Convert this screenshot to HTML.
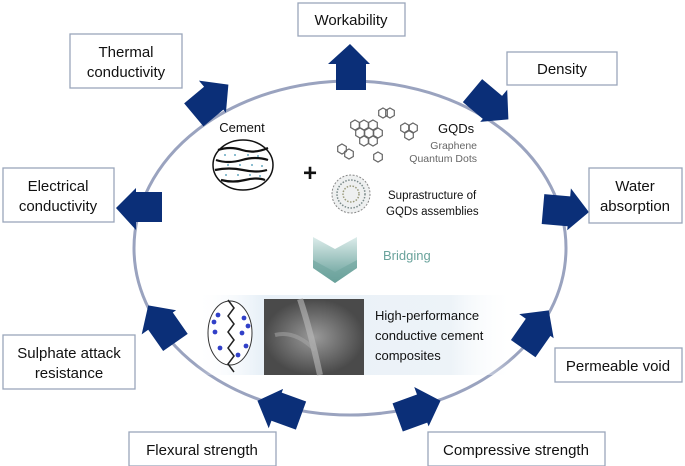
<!DOCTYPE html>
<html><head><meta charset="utf-8"><style>
html,body{margin:0;padding:0;background:#fff;}
svg{display:block;font-family:"Liberation Sans",sans-serif;}
</style></head><body>
<svg width="685" height="466" viewBox="0 0 685 466" xmlns="http://www.w3.org/2000/svg">
<defs>
<linearGradient id="band" x1="0" x2="1"><stop offset="0" stop-color="#fff" stop-opacity="0"/><stop offset="0.2" stop-color="#e9f1f8"/><stop offset="0.8" stop-color="#edf3f8"/><stop offset="1" stop-color="#fff" stop-opacity="0"/></linearGradient>
<linearGradient id="chev" x1="0" y1="0" x2="0" y2="1"><stop offset="0" stop-color="#dcecea"/><stop offset="1" stop-color="#5e9a94"/></linearGradient>
<radialGradient id="sem"><stop offset="0" stop-color="#9a9a9a"/><stop offset="1" stop-color="#4a4a4a"/></radialGradient>
<g id="ar"><polygon points="-22,-14 4,-14 4,-22 24,0 4,20 4,16 -22,16" fill="#0b2f78"/></g>
<g id="hex" fill="none" stroke="#666" stroke-width="1.2"><polygon points="0,-5 4.3,-2.5 4.3,2.5 0,5 -4.3,2.5 -4.3,-2.5"/></g>
</defs>
<ellipse cx="350" cy="248" rx="216" ry="167" fill="none" stroke="#9aa3bf" stroke-width="3"/>
<use href="#ar" transform="translate(350,68) rotate(-90)"/>
<use href="#ar" transform="translate(490,104) rotate(40)"/>
<use href="#ar" transform="translate(565,210) rotate(5)"/>
<use href="#ar" transform="translate(535,330) rotate(-55)"/>
<use href="#ar" transform="translate(418,409) rotate(-20)"/>
<use href="#ar" transform="translate(280,409) rotate(200)"/>
<use href="#ar" transform="translate(162,325) rotate(235)"/>
<use href="#ar" transform="translate(140,208) rotate(180)"/>
<use href="#ar" transform="translate(210,100) rotate(-40)"/>
<g fill="#fff" stroke="#9aa6bb" stroke-width="1.3">
<rect x="298" y="3" width="107" height="33"/>
<rect x="70" y="34" width="112" height="54"/>
<rect x="507" y="52" width="110" height="33"/>
<rect x="3" y="168" width="111" height="54"/>
<rect x="589" y="168" width="93" height="55"/>
<rect x="3" y="335" width="132" height="54"/>
<rect x="555" y="348" width="127" height="34"/>
<rect x="129" y="432" width="147" height="34"/>
<rect x="428" y="432" width="177" height="34"/>
</g>
<g font-size="15" fill="#111" text-anchor="middle">
<text x="351" y="25">Workability</text>
<text x="126" y="57">Thermal</text><text x="126" y="77">conductivity</text>
<text x="562" y="74">Density</text>
<text x="58" y="191">Electrical</text><text x="58" y="211">conductivity</text>
<text x="635" y="191">Water</text><text x="635" y="211">absorption</text>
<text x="69" y="358">Sulphate attack</text><text x="69" y="378">resistance</text>
<text x="618" y="371">Permeable void</text>
<text x="202" y="455">Flexural strength</text>
<text x="516" y="455">Compressive strength</text>
</g>
<text x="242" y="132" font-size="13" text-anchor="middle" fill="#111">Cement</text>
<ellipse cx="243" cy="165" rx="30" ry="25" fill="#fff" stroke="#111" stroke-width="1.5"/>
<g stroke="#111" stroke-width="2.2" fill="none">
<path d="M218 150 q12 -4 24 0 t26 -2"/><path d="M216 160 q12 4 26 0 t26 0"/><path d="M215 170 q14 -3 28 0 t24 0"/><path d="M221 180 q12 3 24 0 t20 0"/>
</g>
<g fill="#3a8fb0"><circle cx="225" cy="155" r="0.9"/><circle cx="235" cy="155" r="0.9"/><circle cx="248" cy="155" r="0.9"/><circle cx="258" cy="156" r="0.9"/><circle cx="228" cy="165" r="0.9"/><circle cx="240" cy="165" r="0.9"/><circle cx="252" cy="165" r="0.9"/><circle cx="262" cy="166" r="0.9"/><circle cx="226" cy="175" r="0.9"/><circle cx="238" cy="175" r="0.9"/><circle cx="250" cy="175" r="0.9"/><circle cx="260" cy="176" r="0.9"/></g>
<text x="310" y="181" font-size="24" font-weight="bold" text-anchor="middle" fill="#111">+</text>
<g>
<use href="#hex" x="355" y="125"/><use href="#hex" x="364" y="125"/><use href="#hex" x="373" y="125"/><use href="#hex" x="360" y="133"/><use href="#hex" x="369" y="133"/><use href="#hex" x="378" y="133"/><use href="#hex" x="364" y="141"/><use href="#hex" x="373" y="141"/>
<use href="#hex" x="405" y="128"/><use href="#hex" x="413" y="128"/><use href="#hex" x="409" y="135"/>
<use href="#hex" x="383" y="113"/><use href="#hex" x="390" y="113"/>
<use href="#hex" x="342" y="149"/><use href="#hex" x="349" y="154"/>
<use href="#hex" x="378" y="157"/>
</g>
<text x="438" y="133" font-size="13" fill="#111">GQDs</text>
<text x="477" y="149" font-size="10.5" fill="#666" text-anchor="end">Graphene</text>
<text x="477" y="162" font-size="10.5" fill="#666" text-anchor="end">Quantum Dots</text>
<circle cx="351" cy="194" r="19" fill="#eef0f0" stroke="#888" stroke-width="1" stroke-dasharray="2 1.5"/>
<circle cx="351" cy="194" r="14" fill="none" stroke="#7a8a8a" stroke-width="1.5" stroke-dasharray="1.5 1.5"/>
<circle cx="351" cy="194" r="8" fill="none" stroke="#9a9a7a" stroke-width="1.5" stroke-dasharray="1.5 1.5"/>
<text x="388" y="199" font-size="11.5" fill="#111">Suprastructure of</text>
<text x="386" y="215" font-size="11.5" fill="#111">GQDs assemblies</text>
<polygon points="313,237 335,249 357,237 357,268 335,283 313,268" fill="url(#chev)"/>
<polygon points="313,260 335,272 357,260 357,268 335,283 313,268" fill="#6fa59f" opacity="0.6"/>
<text x="383" y="260" font-size="13" fill="#6aa39c">Bridging</text>
<rect x="195" y="295" width="320" height="80" fill="url(#band)"/>
<ellipse cx="230" cy="333" rx="22" ry="32" fill="#fff" stroke="#333" stroke-width="1"/>
<path d="M228 300 l6 8 -6 8 6 8 -6 8 6 8 -6 8 6 8 -6 8 6 8" stroke="#222" fill="none" stroke-width="1.5"/>
<g fill="#3140c8"><circle cx="218" cy="315" r="2.4"/><circle cx="244" cy="318" r="2.4"/><circle cx="215" cy="332" r="2.4"/><circle cx="242" cy="333" r="2.4"/><circle cx="220" cy="348" r="2.4"/><circle cx="246" cy="346" r="2.4"/><circle cx="238" cy="355" r="2.4"/><circle cx="214" cy="322" r="2.4"/><circle cx="248" cy="326" r="2.4"/></g>
<rect x="264" y="299" width="100" height="76" fill="url(#sem)"/>
<path d="M300 299 q10 30 20 76" stroke="#bbb" stroke-width="6" fill="none" opacity="0.6"/>
<path d="M275 335 q20 -5 40 15" stroke="#aaa" stroke-width="4" fill="none" opacity="0.5"/>
<g font-size="13" fill="#111"><text x="375" y="320">High-performance</text><text x="375" y="340">conductive cement</text><text x="375" y="360">composites</text></g>
</svg>
</body></html>
